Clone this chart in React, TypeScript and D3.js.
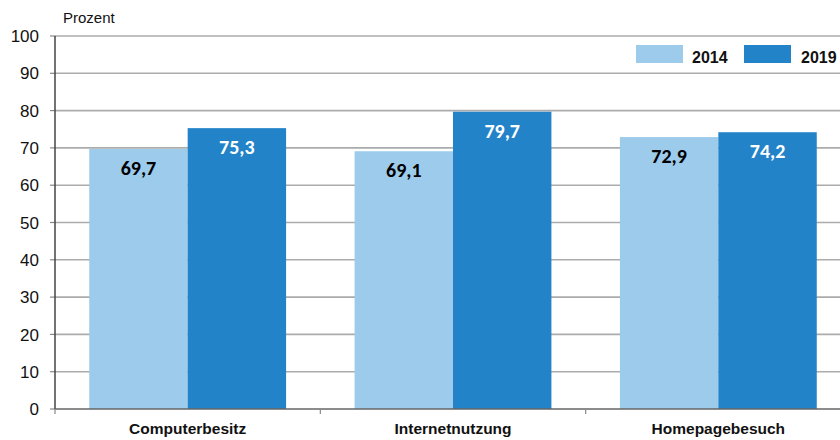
import React from "react";
import * as d3 from "d3";

const categories = ["Computerbesitz", "Internetnutzung", "Homepagebesuch"];
const series = ["2014", "2019"];
const values2014 = [69.7, 69.1, 72.9];
const values2019 = [75.3, 79.7, 74.2];
const yTicks = [0, 10, 20, 30, 40, 50, 60, 70, 80, 90, 100];
const colors = ["#9ccbec", "#2383c8"];
const labelColors = ["#000000", "#ffffff"];

const W = 840;
const H = 440;
const left = 55;
const right = 851;
const top = 36;
const bottom = 409;

export default function App() {
  const x = d3.scaleBand<string>().domain(categories).range([left, right]).paddingInner(0).paddingOuter(0);
  const inner = d3.scaleBand<string>().domain(series).range([0, x.bandwidth()]).paddingOuter(0.348).paddingInner(0);
  const y = d3.scaleLinear().domain([0, 100]).range([bottom, top]);
  const data = [values2014, values2019];
  const fmt = (v: number) => v.toFixed(1).replace(".", ",");
  const boundaries = d3.range(categories.length + 1).map((i) => left + i * x.step());

  return (
    <svg width={W} height={H} style={{ position: "absolute", left: 0, top: 0, background: "#fff" }}
      fontFamily="Arial, 'Liberation Sans', sans-serif">
      <text x={63} y={23} fontSize={15} fill="#111">Prozent</text>
      {yTicks.map((t) => (
        <g key={t}>
          {t > 0 && <line x1={left} x2={W} y1={y(t)} y2={y(t)} stroke="#ababab" strokeWidth={1.6} />}
          <line x1={left - 5} x2={left} y1={y(t)} y2={y(t)} stroke="#888" strokeWidth={1.2} />
          <text x={39} y={y(t)} dy="0.36em" textAnchor="end" fontSize={17} fill="#111">{t}</text>
        </g>
      ))}
      {categories.map((c, i) =>
        series.map((s, j) => {
          const v = data[j][i];
          const bx = (x(c) as number) + (inner(s) as number);
          return (
            <g key={c + s}>
              <rect x={bx} y={y(v)} width={inner.bandwidth()} height={bottom - y(v)} fill={colors[j]} />
              <text x={bx + inner.bandwidth() / 2} y={y(v) + 26} textAnchor="middle" fontSize={20}
                fontWeight="bold" fill={labelColors[j]} fontFamily="Carlito, 'Open Sans', sans-serif">{fmt(v)}</text>
            </g>
          );
        })
      )}
      <line x1={left} x2={left} y1={top} y2={bottom} stroke="#444" strokeWidth={1.5} />
      <line x1={left} x2={W} y1={bottom} y2={bottom} stroke="#666" strokeWidth={1.5} />
      {boundaries.map((b, i) => (
        <line key={i} x1={b} x2={b} y1={bottom} y2={bottom + 5} stroke="#888" strokeWidth={1.2} />
      ))}
      {categories.map((c) => (
        <text key={c} x={(x(c) as number) + x.bandwidth() / 2} y={434} textAnchor="middle" fontSize={15.5}
          fontWeight="bold" fill="#111">{c}</text>
      ))}
      <rect x={628} y={40} width={212} height={28} fill="#fff" />
      {series.map((s, j) => (
        <g key={s}>
          <rect x={636 + j * 108} y={45} width={47} height={18} fill={colors[j]} />
          <text x={692 + j * 109} y={63} fontSize={16} fontWeight="bold" fill="#111">{s}</text>
        </g>
      ))}
    </svg>
  );
}
